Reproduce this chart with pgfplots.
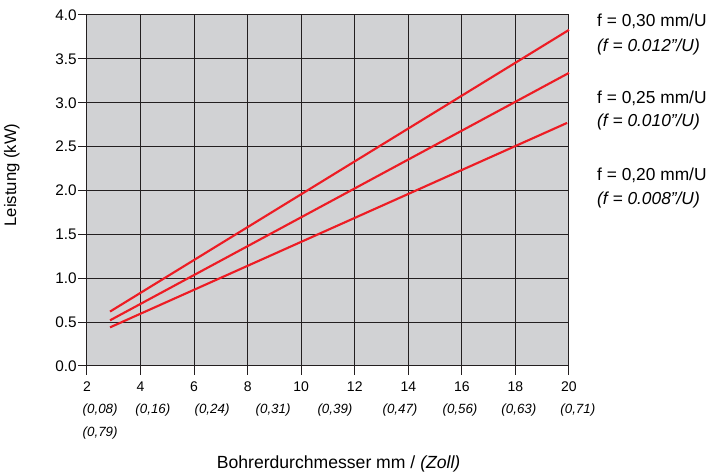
\documentclass[border=0pt]{standalone}
\usepackage{pgfplots}
\pgfplotsset{compat=1.18}
\usepackage{fontspec}
\setmainfont{Liberation Sans}
\definecolor{bggray}{RGB}{209,210,212}
\definecolor{gridc}{RGB}{35,31,32}
\definecolor{lred}{RGB}{237,28,36}
\begin{document}
\begin{tikzpicture}
\begin{axis}[
  scale only axis, width=361.5pt, height=263.25pt,
  xmin=2, xmax=20, ymin=0, ymax=4,
  xtick={2,4,6,8,10,12,14,16,18,20},
  ytick={0,0.5,1,1.5,2,2.5,3,3.5,4},
  grid=major,
  major grid style={gridc, line width=0.75pt},
  axis line style={gridc, line width=0.75pt},
  tick style={gridc, line width=0.75pt},
  tick align=outside, major tick length=6.5pt,
  xtick pos=left, ytick pos=left,
  axis background/.style={fill=bggray},
  clip=false,
  /pgf/number format/assume math mode=true,
  yticklabel style={/pgf/number format/.cd, fixed, fixed zerofill, precision=1, /tikz/.cd, font=\fontsize{11.5}{12}\selectfont, inner sep=1pt},
  xticklabel style={font=\fontsize{10.5}{12}\selectfont, yshift=-2pt},
  xlabel={Bohrerdurchmesser mm / \textit{(Zoll)}},
  ylabel={Leistung (kW)},
  every axis x label/.style={at={(axis description cs:0.522,-0.291)}, anchor=base, font=\fontsize{13.2}{15}\selectfont},
  every axis y label/.style={at={(axis description cs:-0.156,0.544)}, anchor=center, rotate=90, font=\fontsize{12.5}{14}\selectfont},
]
\addplot[lred, line width=1.6pt] coordinates {(2.86,0.62) (20,3.83)};
\addplot[lred, line width=1.6pt] coordinates {(2.86,0.52) (20,3.34)};
\addplot[lred, line width=1.6pt] coordinates {(2.86,0.44) (19.93,2.77)};

\begin{scope}[every node/.style={font=\fontsize{10}{12}\selectfont\itshape, anchor=base}]
\node at (axis cs:2.49,0) [yshift=-36pt] {(0,08)};
\node at (axis cs:2.49,0) [yshift=-53pt] {(0,79)};
\node at (axis cs:4.46,0) [yshift=-36pt] {(0,16)};
\node at (axis cs:6.67,0) [yshift=-36pt] {(0,24)};
\node at (axis cs:8.95,0) [yshift=-36pt] {(0,31)};
\node at (axis cs:11.26,0) [yshift=-36pt] {(0,39)};
\node at (axis cs:13.69,0) [yshift=-36pt] {(0,47)};
\node at (axis cs:15.93,0) [yshift=-36pt] {(0,56)};
\node at (axis cs:18.13,0) [yshift=-36pt] {(0,63)};
\node at (axis cs:20.33,0) [yshift=-36pt] {(0,71)};
\end{scope}

\begin{scope}[every node/.style={font=\fontsize{13}{15}\selectfont, anchor=base west, inner sep=0pt}]
\node at (rel axis cs:1.058,0.966) {f = 0,30 mm/U};
\node at (rel axis cs:1.058,0.897) {\itshape (f = 0.012”/U)};
\node at (rel axis cs:1.058,0.749) {f = 0,25 mm/U};
\node at (rel axis cs:1.058,0.681) {\itshape (f = 0.010”/U)};
\node at (rel axis cs:1.058,0.527) {f = 0,20 mm/U};
\node at (rel axis cs:1.058,0.459) {\itshape (f = 0.008”/U)};
\end{scope}

\coordinate (bl) at (rel axis cs:-0.1805,-0.3134);
\coordinate (tr) at (rel axis cs:1.2905,1.0427);
\end{axis}
\pgfresetboundingbox
\path[use as bounding box] (bl) rectangle (tr);
\end{tikzpicture}
\end{document}
